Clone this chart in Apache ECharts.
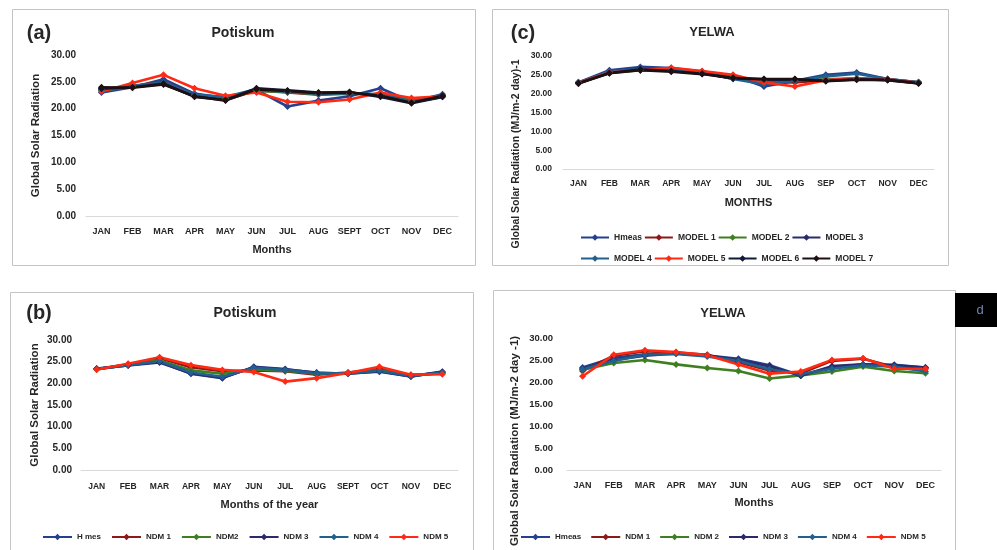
<!DOCTYPE html>
<html><head><meta charset="utf-8">
<script src="https://cdn.jsdelivr.net/npm/echarts@6/dist/echarts.min.js"></script>
<style>html,body{margin:0;padding:0;background:#fff}#c{width:997px;height:550px}</style>
</head><body><div id="c"></div>
<script>
// ---------- categories ----------
const monthsPot = ['JAN','FEB','MAR','APR','MAY','JUN','JUL','AUG','SEPT','OCT','NOV','DEC'];
const monthsYel = ['JAN','FEB','MAR','APR','MAY','JUN','JUL','AUG','SEP','OCT','NOV','DEC'];
const yTickFormat = v => v.toFixed(2);

// ---------- series names ----------
const modelNames = ['Hmeas','MODEL 1','MODEL 2','MODEL 3','MODEL 4','MODEL 5','MODEL 6','MODEL 7'];
const ndmNamesB = ['H mes','NDM 1','NDM2','NDM 3','NDM 4','NDM 5'];
const ndmNamesD = ['Hmeas','NDM 1','NDM 2','NDM 3','NDM 4','NDM 5'];

// ---------- (a) Potiskum, models ----------
const aHmeas  = [23.0, 24.0, 25.5, 22.8, 22.0, 23.5, 20.4, 21.5, 22.3, 23.8, 21.3, 22.7];
const aModel1 = [23.6, 24.2, 25.0, 22.5, 21.6, 23.4, 23.0, 22.6, 22.8, 22.6, 21.5, 22.3];
const aModel2 = [23.4, 24.1, 24.8, 22.4, 21.9, 23.3, 23.1, 22.7, 22.9, 22.5, 21.6, 22.4];
const aModel3 = [23.8, 24.0, 24.6, 22.3, 21.7, 23.7, 23.3, 22.9, 23.0, 22.3, 21.2, 22.2];
const aModel4 = [23.5, 24.2, 24.9, 22.6, 22.2, 23.6, 23.1, 22.8, 22.9, 22.7, 21.4, 22.5];
const aModel5 = [23.2, 24.8, 26.3, 23.8, 22.4, 23.0, 21.3, 21.2, 21.7, 23.0, 22.0, 22.3];
const aModel6 = [23.7, 24.0, 24.7, 22.2, 21.6, 23.8, 23.4, 23.0, 23.1, 22.2, 21.0, 22.2];
const aModel7 = [24.0, 23.9, 24.5, 22.3, 21.5, 23.6, 23.3, 22.9, 23.0, 22.4, 21.1, 22.4];

// ---------- (c) Yelwa, models ----------
const cHmeas  = [23.0, 26.2, 27.1, 26.8, 25.9, 24.8, 21.9, 23.4, 25.0, 25.6, 23.9, 23.0];
const cModel1 = [22.8, 25.7, 26.3, 26.5, 25.8, 24.3, 23.1, 23.0, 23.6, 24.0, 23.7, 22.9];
const cModel2 = [22.9, 25.5, 26.2, 26.1, 25.4, 24.4, 23.5, 23.6, 23.8, 24.1, 23.8, 23.0];
const cModel3 = [22.7, 25.6, 26.4, 26.2, 25.5, 24.0, 23.7, 23.7, 23.5, 23.9, 23.6, 22.8];
const cModel4 = [23.0, 25.9, 26.6, 26.4, 25.6, 23.9, 22.5, 23.4, 24.6, 25.3, 23.9, 23.0];
const cModel5 = [22.9, 25.6, 26.3, 26.9, 26.0, 25.0, 23.0, 21.9, 23.6, 24.0, 23.8, 22.9];
const cModel6 = [22.8, 25.5, 26.5, 26.0, 25.3, 24.2, 23.8, 23.8, 23.4, 23.8, 23.7, 22.8];
const cModel7 = [22.7, 25.4, 26.2, 25.8, 25.2, 24.1, 23.9, 23.9, 23.3, 23.7, 23.6, 22.7];

// ---------- (b) Potiskum, NDM ----------
const bHmes = [23.3, 24.2, 25.0, 22.2, 21.2, 23.8, 23.3, 22.4, 22.3, 22.7, 21.6, 22.6];
const bNdm1 = [23.3, 24.4, 25.8, 23.7, 22.8, 23.0, 22.8, 22.0, 22.5, 23.3, 21.9, 22.3];
const bNdm2 = [23.2, 24.3, 25.3, 23.0, 22.2, 23.2, 22.9, 22.2, 22.4, 23.0, 21.8, 22.4];
const bNdm3 = [23.4, 24.1, 24.8, 22.3, 21.3, 23.7, 23.2, 22.5, 22.2, 22.8, 21.6, 22.7];
const bNdm4 = [23.3, 24.2, 25.1, 22.5, 21.5, 23.6, 23.1, 22.3, 22.3, 22.9, 21.7, 22.5];
const bNdm5 = [23.2, 24.5, 26.0, 24.2, 23.1, 22.6, 20.4, 21.2, 22.4, 23.8, 22.0, 22.1];

// ---------- (d) Yelwa, NDM ----------
const dHmeas = [23.3, 25.5, 26.3, 26.6, 26.0, 25.3, 23.8, 21.5, 23.3, 24.0, 23.9, 23.3];
const dNdm1  = [22.5, 26.0, 27.0, 26.7, 26.2, 24.5, 22.6, 22.0, 24.8, 25.3, 23.4, 23.0];
const dNdm2  = [22.8, 24.3, 25.0, 24.0, 23.2, 22.5, 20.8, 21.5, 22.4, 23.5, 22.5, 22.0];
const dNdm3  = [23.0, 25.0, 26.0, 26.5, 26.0, 25.0, 23.5, 21.4, 23.6, 24.0, 23.8, 23.3];
const dNdm4  = [22.9, 24.8, 26.2, 26.4, 25.8, 24.8, 22.9, 21.8, 23.0, 23.8, 23.5, 22.4];
const dNdm5  = [21.3, 26.2, 27.2, 26.8, 26.1, 24.0, 21.9, 22.4, 25.0, 25.4, 23.0, 23.0];

// ---------- styling ----------
const FONT = 'Liberation Sans';
const TXT = '#262626';
const colModels = ['#24408e','#8c1a1a','#3f7f22','#2b2a6b','#22608f','#ff2a14','#101a38','#1e1010'];
const colNdm = ['#24408e','#8c1a1a','#3f7f22','#2b2a6b','#22608f','#ff2a14'];

const panels = [
  {grid:{left:86,right:539,top:55,bottom:334}, cats:monthsPot, yFont:10, xFont:9, xMargin:11, yMargin:10,
   xName:'Months', xGap:28, yName:'Global Solar Radiation', yNameFont:11.5, yGap:44,
   names:modelNames, cols:colModels, data:[aHmeas,aModel1,aModel2,aModel3,aModel4,aModel5,aModel6,aModel7]},
  {grid:{left:563,right:63,top:56,bottom:381}, cats:monthsYel, yFont:8.5, xFont:8.5, xMargin:10, yMargin:11,
   xName:'MONTHS', xGap:28, yName:'', names:modelNames, cols:colModels,
   data:[cHmeas,cModel1,cModel2,cModel3,cModel4,cModel5,cModel6,cModel7]},
  {grid:{left:81,right:539,top:340,bottom:80}, cats:monthsPot, yFont:10, xFont:8.5, xMargin:12, yMargin:9,
   xName:'Months of the year', xGap:29, yName:'Global Solar Radiation', yNameFont:11.5, yGap:40,
   names:ndmNamesB, cols:colNdm, data:[bHmes,bNdm1,bNdm2,bNdm3,bNdm4,bNdm5]},
  {grid:{left:567,right:56,top:338,bottom:80}, cats:monthsYel, yFont:9.5, xFont:9, xMargin:11, yMargin:14,
   xName:'Months', xGap:27, yName:'', names:ndmNamesD, cols:colNdm,
   data:[dHmeas,dNdm1,dNdm2,dNdm3,dNdm4,dNdm5]}
];

const grids = [], xAxes = [], yAxes = [], series = [];
panels.forEach((p, i) => {
  grids.push(p.grid);
  xAxes.push({
    type:'category', gridIndex:i, data:p.cats, boundaryGap:true,
    axisLine:{show:true, lineStyle:{color:'#d9d9d9', width:1}}, axisTick:{show:false},
    axisLabel:{fontFamily:FONT, fontWeight:'bold', fontSize:p.xFont, color:TXT, margin:p.xMargin, interval:0},
    name:p.xName, nameLocation:'middle', nameGap:p.xGap,
    nameTextStyle:{fontFamily:FONT, fontWeight:'bold', fontSize:11, color:TXT}
  });
  yAxes.push({
    type:'value', gridIndex:i, min:0, max:30, interval:5,
    axisLine:{show:false}, axisTick:{show:false}, splitLine:{show:false},
    axisLabel:{fontFamily:FONT, fontWeight:'bold', fontSize:p.yFont, color:TXT, margin:p.yMargin, formatter:yTickFormat},
    name:p.yName, nameLocation:'middle', nameGap:p.yGap || 40,
    nameTextStyle:{fontFamily:FONT, fontWeight:'bold', fontSize:p.yNameFont || 11, color:TXT}
  });
  p.data.forEach((d, k) => {
    series.push({
      type:'line', name:p.names[k], xAxisIndex:i, yAxisIndex:i, data:d,
      symbol:'diamond', symbolSize:7, showSymbol:true, animation:false,
      lineStyle:{width:2.6, color:p.cols[k]}, itemStyle:{color:p.cols[k]}
    });
  });
});

const legendText = (fs, w) => ({fontFamily:FONT, fontWeight:'bold', fontSize:fs, color:TXT, width:w, overflow:'none'});
const legends = [
  {data:modelNames.slice(0,4), left:575, top:228, itemWidth:28, itemHeight:8, itemGap:2, textStyle:legendText(8.5,40), selectedMode:false},
  {data:modelNames.slice(4,8), left:575, top:249, itemWidth:28, itemHeight:8, itemGap:2, textStyle:legendText(8.5,40), selectedMode:false},
  {data:ndmNamesB, left:37, top:528, itemWidth:29, itemHeight:8, itemGap:10, textStyle:legendText(8), selectedMode:false},
  {data:ndmNamesD, left:515, top:528, itemWidth:29, itemHeight:8, itemGap:9, textStyle:legendText(8), selectedMode:false}
];

const border = (x, y, w, h) => ({type:'rect', shape:{x:x+0.5, y:y+0.5, width:w, height:h},
  style:{fill:null, stroke:'#c4c4c4', lineWidth:1}, silent:true});
const txt = (x, y, t, fs, extra) => Object.assign({type:'text', x:x, y:y,
  style:{text:t, fontFamily:FONT, fontWeight:'bold', fontSize:fs, fill:TXT, align:'center', verticalAlign:'middle'}, silent:true}, extra || {});

const graphics = [
  border(12, 9, 463, 256),
  border(492, 9, 456, 256),
  border(10, 292, 463, 270),
  border(493, 290, 462, 270),
  txt(39, 33, '(a)', 20),
  txt(243, 33, 'Potiskum', 14),
  txt(523, 33, '(c)', 20),
  txt(712, 32, 'YELWA', 13),
  txt(39, 313, '(b)', 20),
  txt(245, 313, 'Potiskum', 14),
  txt(723, 313, 'YELWA', 13),
  txt(516, 154, 'Global Solar Radiation (MJ/m-2 day)-1', 10.5, {rotation:Math.PI/2}),
  txt(515, 441, 'Global Solar Radiation (MJ/m-2 day -1)', 11.5, {rotation:Math.PI/2}),
  {type:'rect', shape:{x:955, y:293, width:42, height:34}, style:{fill:'#000'}, silent:true},
  {type:'text', x:980, y:310, style:{text:'d', fontFamily:FONT, fontSize:13, fill:'#6f86b0', align:'center', verticalAlign:'middle'}, silent:true}
];

const chart = echarts.init(document.getElementById('c'), null, {renderer:'canvas'});
chart.setOption({
  backgroundColor:'#fff', animation:false,
  grid:grids, xAxis:xAxes, yAxis:yAxes, series:series, legend:legends, graphic:graphics
});
</script></body></html>
